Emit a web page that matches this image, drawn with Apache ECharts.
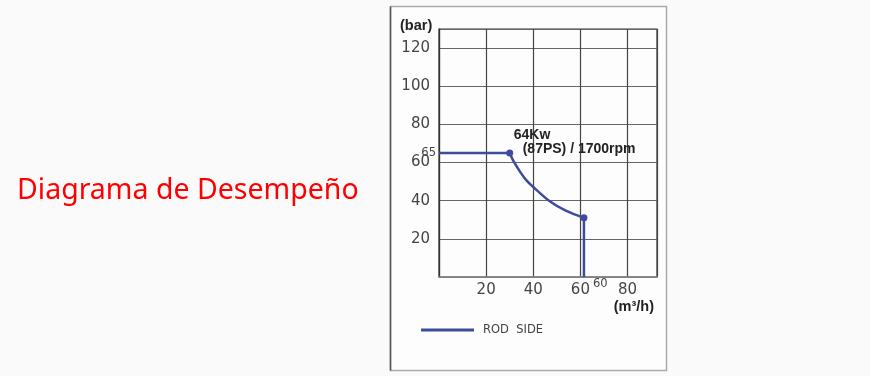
<!DOCTYPE html>
<html>
<head>
<meta charset="utf-8">
<script src="https://cdn.jsdelivr.net/npm/echarts@6/dist/echarts.min.js"></script>
<style>
html,body{margin:0;padding:0;background:#fafafa;}
#main{width:870px;height:376px;}
</style>
</head>
<body>
<div id="main"></div>
<script>
// ---- data ----
const titleText = 'Diagrama de Desempeño';
const seriesName = 'ROD SIDE';
const xTicks = [20, 40, 60, 80];
const yTicks = [20, 40, 60, 80, 100, 120];
const xMax = 92.5;
const yMax = 130;
const flatPart = [[0, 65], [30, 65]];
const curvePart = [[30, 65], [31.5, 61], [34.5, 55], [37, 50.8], [40, 47.2], [47, 39.7], [54, 34.6], [61.5, 31]];
const dropPart = [[61.5, 31], [61.5, 0]];
const powerLine1 = '64Kw';
const powerLine2 = '(87PS) / 1700rpm';
const yUnit = '(bar)';
const xUnit = '(m³/h)';
const legendText = 'ROD  SIDE';

const lineColor = '#3f4c9c';
const chart = echarts.init(document.getElementById('main'), null, {renderer: 'canvas'});

function endSymbols(arr) {
  return arr.map((p, i) => ({
    value: p,
    symbol: (i === 0 || i === arr.length - 1) ? 'circle' : 'none',
    symbolSize: 7
  }));
}

const option = {
  backgroundColor: '#fafafa',
  animation: false,
  title: {
    text: titleText,
    left: 12,
    top: 171,
    textStyle: {color: '#ff0000', fontFamily: 'Noto Sans', fontWeight: 'normal', fontSize: 28.5}
  },
  grid: {left: 439, top: 29, width: 218, height: 248, show: true, borderColor: '#333', borderWidth: 1.2, backgroundColor: 'transparent'},
  legend: {
    data: [seriesName],
    left: 416,
    top: 319,
    icon: 'rect',
    itemWidth: 53,
    itemHeight: 3,
    textStyle: {fontFamily: 'DejaVu Sans', fontSize: 11.5, color: '#444', padding: [0, 0, 0, 4]},
    formatter: () => legendText
  },
  xAxis: {
    type: 'value', min: 0, max: xMax, interval: 20,
    axisLine: {show: true, lineStyle: {color: '#888', width: 1.5}},
    axisTick: {show: false},
    splitLine: {show: true, lineStyle: {color: '#444', width: 1.2}},
    axisLabel: {
      showMaxLabel: false, margin: 6,
      fontFamily: 'DejaVu Sans', fontSize: 15, color: '#444',
      formatter: v => xTicks.includes(v) ? String(v) : ''
    }
  },
  yAxis: {
    type: 'value', min: 0, max: yMax, interval: 20,
    axisLine: {show: true, lineStyle: {color: '#333', width: 1.2}},
    axisTick: {show: false},
    splitLine: {show: true, lineStyle: {color: '#666', width: 1.2}},
    axisLabel: {
      showMaxLabel: false, margin: 9,
      fontFamily: 'DejaVu Sans', fontSize: 15, color: '#444',
      formatter: v => yTicks.includes(v) ? String(v) : ''
    }
  },
  series: [
    {
      name: seriesName, type: 'line',
      data: flatPart.map((p, i) => ({value: p, symbol: 'circle', symbolSize: 0})),
      lineStyle: {color: lineColor, width: 2.5}, itemStyle: {color: lineColor},
      label: {
        show: true, position: 'left', distance: 3,
        formatter: p => p.dataIndex === 0 ? String(p.value[1]) : '',
        fontFamily: 'DejaVu Sans', fontSize: 11.5, color: '#444'
      }
    },
    {
      name: seriesName, type: 'line', data: endSymbols(curvePart), smooth: 0.3,
      lineStyle: {color: lineColor, width: 2.5}, itemStyle: {color: lineColor}
    },
    {
      name: seriesName, type: 'line', data: dropPart, symbol: 'none',
      lineStyle: {color: lineColor, width: 2.5}, itemStyle: {color: lineColor}
    }
  ]
};
chart.setOption(option);

const pk = chart.convertToPixel({gridIndex: 0}, curvePart[0]);
const pe = chart.convertToPixel({gridIndex: 0}, dropPart[1]);
const yTop = chart.convertToPixel({gridIndex: 0}, [0, yMax]);
const xRight = chart.convertToPixel({gridIndex: 0}, [xMax, 0]);

chart.setOption({
  graphic: [
    {type: 'rect', z: -10, silent: true, shape: {x: 390.5, y: 6.5, width: 276, height: 364},
     style: {fill: '#fdfdfd', stroke: '#aaa', lineWidth: 1.5}},
    {type: 'line', z: -9, silent: true, shape: {x1: 390.5, y1: 6.5, x2: 390.5, y2: 370.5},
     style: {stroke: '#555', lineWidth: 1.5}},
    {type: 'text', style: {text: yUnit, x: yTop[0] - 39, y: yTop[1] - 3, verticalAlign: 'middle',
      font: 'bold 14.5px "Liberation Sans"', fill: '#222'}},
    {type: 'text', style: {text: xUnit, x: xRight[0] - 3, y: xRight[1] + 30, align: 'right', verticalAlign: 'middle',
      font: 'bold 14.5px "Liberation Sans"', fill: '#222'}},
    {type: 'text', style: {text: powerLine1, x: pk[0] + 4, y: pk[1] - 18, verticalAlign: 'middle',
      font: 'bold 14px "Liberation Sans"', fill: '#222'}},
    {type: 'text', style: {text: powerLine2, x: pk[0] + 13, y: pk[1] - 4, verticalAlign: 'middle',
      font: 'bold 14px "Liberation Sans"', fill: '#222'}},
    {type: 'text', style: {text: String(xTicks[2]), x: pe[0] + 9, y: pe[1] + 7, verticalAlign: 'middle',
      font: '11.5px "DejaVu Sans"', fill: '#444'}}
  ]
});
</script>
</body>
</html>
